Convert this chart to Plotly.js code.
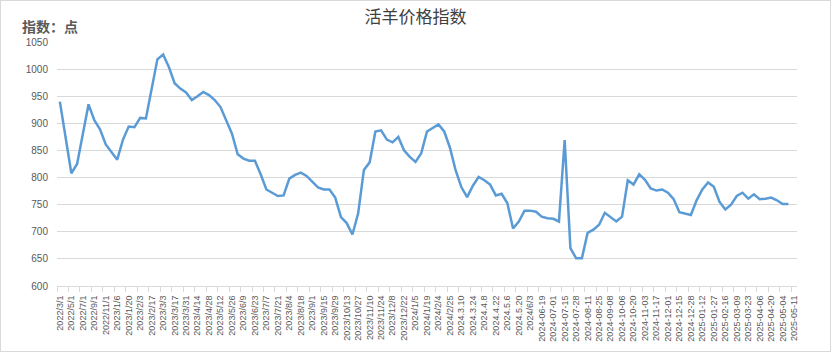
<!DOCTYPE html>
<html>
<head>
<meta charset="utf-8">
<script src="https://cdn.plot.ly/plotly-3.0.1.min.js"></script>
<style>
  html, body { margin: 0; padding: 0; background: #fff; }
  #wrap { position: relative; width: 831px; height: 352px; }
  #chart { width: 831px; height: 352px; }
  #frame { position: absolute; left: 0; top: 0; width: 831px; height: 352px; box-sizing: border-box; border: 1px solid #d9d9d9; pointer-events: none; }
</style>
</head>
<body>
<div id="wrap"><div id="chart"></div><div id="frame"></div></div>
<script>
// Category axis labels (one label for every second category slot)
const tickLabels = [
  "2022/3/1","2022/5/1","2022/7/1","2022/9/1","2022/11/1","2023/1/6","2023/1/20","2023/2/3","2023/2/17","2023/3/3",
  "2023/3/17","2023/3/31","2023/4/14","2023/4/28","2023/5/12","2023/5/26","2023/6/9","2023/6/23","2023/7/7","2023/7/21",
  "2023/8/4","2023/8/18","2023/9/1","2023/9/15","2023/9/29","2023/10/13","2023/10/27","2023/11/10","2023/11/24","2023/12/8",
  "2023/12/22","2024/1/5","2024/1/19","2024/2/4","2024/2/25","2024.3.10","2024.3.24","2024.4.8","2024.4.22","2024.5.6",
  "2024.5.20","2024/6/3","2024-06-19","2024-07-01","2024-07-15","2024-07-28","2024-08-11","2024-08-25","2024-09-08","2024-10-06",
  "2024-10-20","2024-11-03","2024-11-17","2024-12-01","2024-12-15","2024-12-28","2025-01-12","2025-01-27","2025-02-16","2025-03-09",
  "2025-03-23","2025-04-06","2025-04-20","2025-05-04","2025-05-11"
];

// 活羊价格指数 values (points)
const indexValues = [
  940, 870, 808, 825, 880, 935, 906, 889, 861, 848,
  833, 870, 894, 893, 910, 909, 965, 1018, 1027, 1004,
  974, 964, 957, 943, 950, 958, 952, 943, 930, 906,
  881, 843, 835, 831, 831, 806, 778, 772, 766, 767,
  798, 805, 809, 803, 793, 782, 778, 778, 763, 727,
  716, 695, 734, 814, 828, 885, 887, 870, 865, 875,
  850, 838, 829, 845, 885, 892, 898, 885, 855, 813,
  782, 764, 785, 801, 795, 787, 767, 770, 753, 706,
  719, 739, 739, 737, 728, 725, 724, 719, 869, 670,
  651, 651, 698, 704, 713, 735, 727, 719, 728, 795,
  787, 806, 796, 780, 776, 778, 772, 760, 736, 734,
  731, 758, 778, 791, 783, 755, 741, 750, 766, 772,
  761, 769, 760, 761, 763, 758, 751, 751
];

const xIdx = indexValues.map((_, i) => i);
const tickPos = tickLabels.map((_, i) => i * 2);
const slotCount = tickPos[tickPos.length - 1] + 1;

const trace = {
  x: xIdx,
  y: indexValues,
  type: 'scatter',
  mode: 'lines',
  line: { color: '#5b9bd5', width: 2.5 },
  hoverinfo: 'y'
};

const layout = {
  width: 831,
  height: 352,
  margin: { l: 57, r: 34, t: 42, b: 66 },
  paper_bgcolor: '#ffffff',
  plot_bgcolor: '#ffffff',
  showlegend: false,
  title: {
    text: '活羊价格指数',
    font: { family: 'Noto Sans CJK SC', size: 17, color: '#404040' },
    x: 0.5, xanchor: 'center', xref: 'container',
    y: 0.952, yanchor: 'middle', yref: 'container'
  },
  xaxis: {
    range: [-0.5, slotCount - 0.5],
    tickmode: 'array',
    tickvals: tickPos,
    ticktext: tickLabels,
    tickangle: -90,
    tickfont: { family: 'Liberation Sans', size: 9, color: '#595959' },
    ticks: 'outside',
    ticklen: 5,
    tickcolor: 'rgba(0,0,0,0)',
    minor: { tickmode: 'linear', tick0: -0.5, dtick: 2, ticks: 'outside', ticklen: 5, tickcolor: '#d9d9d9', tickwidth: 1, showgrid: false },
    showgrid: false,
    showline: true,
    linecolor: '#d9d9d9',
    linewidth: 1,
    zeroline: false,
    fixedrange: true
  },
  yaxis: {
    range: [600, 1050],
    tickmode: 'linear',
    tick0: 600,
    dtick: 50,
    tickfont: { family: 'Liberation Sans', size: 10, color: '#595959' },
    ticks: 'outside',
    ticklen: 6,
    tickcolor: 'rgba(0,0,0,0)',
    showgrid: true,
    gridcolor: '#d9d9d9',
    gridwidth: 1,
    showline: false,
    zeroline: false,
    fixedrange: true
  },
  annotations: [{
    text: '<b>指数：点</b>',
    xref: 'paper', yref: 'paper',
    x: -0.05, xanchor: 'left',
    y: 1.066, yanchor: 'middle',
    showarrow: false,
    font: { family: 'Noto Sans CJK SC', size: 14, color: '#595959' }
  }]
};

Plotly.newPlot('chart', [trace], layout, { displayModeBar: false, staticPlot: true });
</script>
</body>
</html>
